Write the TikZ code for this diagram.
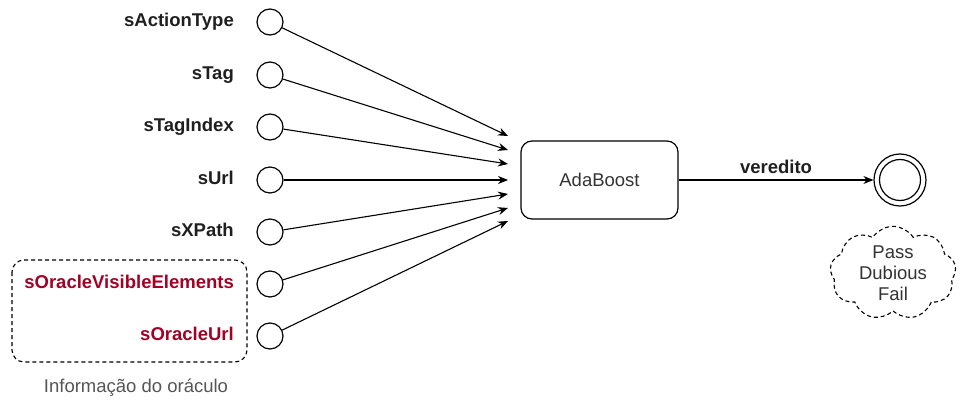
\documentclass[tikz,border=0pt]{standalone}
\usepackage{fontspec}
\setmainfont{Liberation Sans}
\usetikzlibrary{arrows.meta,shapes.symbols}
\definecolor{oracle}{HTML}{A20025}
\definecolor{txtgray}{HTML}{333333}
\definecolor{capgray}{HTML}{555555}
\begin{document}
\begin{tikzpicture}[x=1pt,y=-1pt,
  fnt/.style={font=\fontsize{18.5}{21}\selectfont},
  lab/.style={anchor=east,font=\fontsize{18.5}{21}\selectfont\bfseries,text=black!88,text height=13pt,text depth=4pt,inner sep=0pt},
  olab/.style={lab,text=oracle},
  inp/.style={circle,draw,line width=1.2pt,minimum size=26pt,inner sep=0pt},
  feed/.style={line width=1.1pt,-{Stealth[length=10pt,width=8pt]}}]
\useasboundingbox (0,0) rectangle (960,403);
% oracle group box
\draw[line width=1.1pt,dash pattern=on 4pt off 3pt,rounded corners=12pt] (12,260) rectangle (247,362);
\node[fnt,text=capgray] (cap) at (136,388) {Informação do oráculo};
% labels
\node[lab] (l1) at (234,22) {sActionType};
\node[lab] (l2) at (234,75) {sTag};
\node[lab] (l3) at (234,127) {sTagIndex};
\node[lab] (l4) at (234,180) {sUrl};
\node[lab] (l5) at (234,232) {sXPath};
\node[olab] (l6) at (234,284) {sOracleVisibleElements};
\node[olab] (l7) at (234,336) {sOracleUrl};
% input circles
\node[inp] (c1) at (270,22) {};
\node[inp] (c2) at (270,75) {};
\node[inp] (c3) at (270,127) {};
\node[inp] (c4) at (270,180) {};
\node[inp] (c5) at (270,232) {};
\node[inp] (c6) at (270,284) {};
\node[inp] (c7) at (270,336) {};
% targets
\coordinate (t1) at (508,136);
\coordinate (t2) at (508,150);
\coordinate (t3) at (508,164);
\coordinate (t4) at (508,180);
\coordinate (t5) at (508,194);
\coordinate (t6) at (508,208);
\coordinate (t7) at (508,221);
\foreach \i in {1,...,7} \draw[feed] (c\i) -- (t\i);
% AdaBoost
\node[draw,line width=1.2pt,rounded corners=11pt,minimum width=157pt,minimum height=78pt,fnt,text=txtgray] (ada) at (599.5,180) {AdaBoost};
% output
\node[circle,draw,line width=1.2pt,minimum size=52pt,inner sep=0pt] (outer) at (900,180) {};
\node[circle,draw,line width=1.2pt,minimum size=41pt,inner sep=0pt] (inner) at (900,180) {};
\draw[feed] (ada.east) -- (outer.west) node[midway,above=2pt,font=\fontsize{18.5}{21}\selectfont\bfseries,text=black!88] (vlab) {veredito};
% cloud
\node[cloud,draw,dash pattern=on 4pt off 3pt,line width=1.1pt,cloud puffs=9,cloud puff arc=115,minimum width=126pt,minimum height=92pt,aspect=1.4,align=center,fnt,text=txtgray,inner sep=0pt] (cl) at (893,273) {Pass\\Dubious\\Fail};
\end{tikzpicture}
\end{document}
